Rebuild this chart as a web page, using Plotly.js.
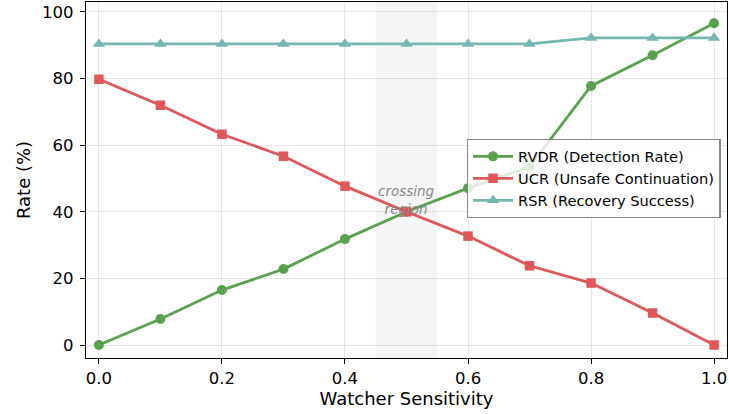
<!DOCTYPE html>
<html>
<head>
<meta charset="utf-8">
<script src="https://cdn.plot.ly/plotly-3.0.1.min.js"></script>
<style>html,body{margin:0;padding:0;background:#fff;}#chart{width:729px;height:414px;}</style>
</head>
<body>
<div id="chart"></div>
<script>
const sensitivity = [0.0, 0.1, 0.2, 0.3, 0.4, 0.5, 0.6, 0.7, 0.8, 0.9, 1.0];
const rvdr = [0.0, 7.8, 16.5, 22.8, 31.8, 40.0, 47.1, 53.5, 77.8, 87.0, 96.6];
const ucr = [79.8, 72.0, 63.3, 56.7, 47.7, 40.0, 32.7, 23.8, 18.6, 9.6, 0.0];
const rsr = [90.4, 90.4, 90.4, 90.4, 90.4, 90.4, 90.4, 90.4, 92.2, 92.2, 92.2];
const xTicks = [0.0, 0.2, 0.4, 0.6, 0.8, 1.0];
const xTickText = ["0.0", "0.2", "0.4", "0.6", "0.8", "1.0"];
const yTicks = [0, 20, 40, 60, 80, 100];
const crossLo = 0.45, crossHi = 0.55;

const font = "DejaVu Sans, sans-serif";
const traces = [
  {x: sensitivity, y: rvdr, name: "RVDR (Detection Rate)", mode: "lines+markers",
   line: {color: "#59a14f", width: 2.8}, marker: {symbol: "circle", size: 10, color: "#59a14f"}},
  {x: sensitivity, y: ucr, name: "UCR (Unsafe Continuation)", mode: "lines+markers",
   line: {color: "#e15759", width: 2.8}, marker: {symbol: "square", size: 9.5, color: "#e15759"}},
  {x: sensitivity, y: rsr, name: "RSR (Recovery Success)", mode: "lines+markers",
   line: {color: "#76b7b2", width: 2.8}, marker: {symbol: "triangle-up", size: 11, color: "#76b7b2"}}
];
const layout = {
  width: 729, height: 414,
  margin: {l: 86, r: 2, t: 2, b: 56},
  paper_bgcolor: "#fff", plot_bgcolor: "#fff",
  font: {family: font, size: 16.5, color: "#000"},
  showlegend: true,
  legend: {x: 0.594, y: 0.615, xanchor: "left", yanchor: "top",
    bgcolor: "rgba(255,255,255,0.8)", bordercolor: "#888", borderwidth: 1.3,
    font: {family: font, size: 14.6}, tracegroupgap: 0, itemwidth: 40},
  xaxis: {range: [-0.021, 1.021], tickvals: xTicks, ticktext: xTickText,
    showline: true, linecolor: "#000", linewidth: 1.3, mirror: true,
    ticks: "outside", ticklen: 5, tickcolor: "#000",
    tickfont: {family: font, size: 16.5},
    showgrid: true, gridcolor: "rgba(0,0,0,0.09)", zeroline: false,
    title: {text: "Watcher Sensitivity", font: {family: font, size: 18}, standoff: 5}},
  yaxis: {range: [-3.9, 103], tickvals: yTicks,
    showline: true, linecolor: "#000", linewidth: 1.3, mirror: true,
    ticks: "outside", ticklen: 5, tickcolor: "#000", ticklabelstandoff: 3,
    tickfont: {family: font, size: 16.5},
    showgrid: true, gridcolor: "rgba(0,0,0,0.09)", zeroline: false,
    title: {text: "Rate (%)", font: {family: font, size: 18}, standoff: 6}},
  shapes: [{type: "rect", xref: "x", yref: "paper", x0: crossLo, x1: crossHi, y0: 0, y1: 1,
    fillcolor: "rgba(128,128,128,0.08)", line: {width: 0}, layer: "below"}],
  annotations: [{x: 0.5, y: 43.5, xref: "x", yref: "y", text: "<i>crossing<br>region</i>",
    showarrow: false, font: {family: font, size: 13.5, color: "#888"}}]
};
Plotly.newPlot("chart", traces, layout, {displayModeBar: false, staticPlot: true});
</script>
</body>
</html>
